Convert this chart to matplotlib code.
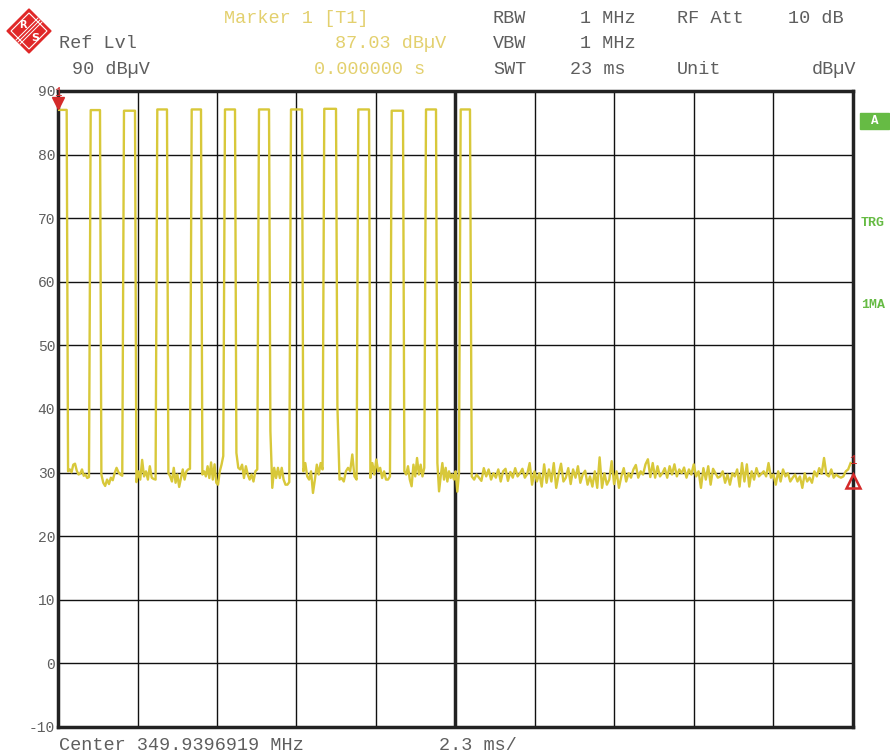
import matplotlib.pyplot as plt
from matplotlib.patches import Polygon, Rectangle
import numpy as np

# sweep settings: 10 div x 2.3 ms, -10..90 dBuV
t_div = 2.3
y_ticks = [90, 80, 70, 60, 50, 40, 30, 20, 10, 0, -10]

# burst edges (ms) and top level (dBuV)
pulse_rise = [0.0, 0.946, 1.909, 2.873, 3.868, 4.831, 5.815, 6.741, 7.704, 8.688, 9.654, 10.647, 11.650]
pulse_fall = [0.251, 1.215, 2.228, 3.153, 4.137, 5.121, 6.105, 7.059, 8.043, 8.998, 9.981, 10.936, 11.919]
pulse_top = [87.03, 87.0, 86.9, 87.1, 87.1, 87.1, 87.1, 87.1, 87.2, 87.1, 86.9, 87.1, 87.1]

# noise floor between bursts (dBuV)
gap_noise = [
    [30.2, 30.5, 30.05, 31.25, 31.4, 30.3, 29.7, 29.85, 30.5, 29.5, 29.7, 29.15, 29.3],
    [29.7, 28.4, 27.9, 28.9, 28.2, 29.2, 28.8, 29.95, 30.75, 30.05, 29.7, 29.5],
    [28.5, 30.2, 28.9, 32.0, 29.4, 30.2, 28.9, 31.0, 29.2, 29.0, 28.9],
    [29.95, 29.4, 28.6, 30.75, 28.4, 29.7, 27.75, 29.15, 30.5, 28.9, 30.2, 30.5, 30.6],
    [29.7, 30.2, 29.4, 31.0, 29.15, 31.6, 28.9, 31.3, 28.4, 28.1, 30.2, 31.25, 32.6],
    [33.1, 30.75, 30.5, 31.25, 29.15, 31.0, 29.7, 28.9, 29.7, 28.6, 30.2, 30.5],
    [36.5, 27.6, 30.75, 29.15, 30.75, 29.15, 30.75, 28.9, 28.1, 28.1, 28.5],
    [30.2, 31.5, 29.4, 28.9, 30.2, 26.8, 28.9, 31.25, 29.7, 31.5, 30.5],
    [40.5, 28.9, 29.15, 28.6, 30.2, 30.75, 30.2, 32.85, 29.4, 28.9],
    [29.15, 31.5, 29.7, 32.05, 30.2, 30.75, 29.15, 30.2, 28.9, 28.9, 29.4],
    [30.2, 29.7, 31.0, 28.9, 27.85, 31.25, 29.4, 32.3, 29.7, 31.25, 29.4, 30.75],
    [31.5, 27.05, 29.4, 31.5, 28.9, 30.75, 28.6, 30.2, 29.15, 29.7, 28.9, 30.2, 27.0, 29.8],
]

# noise floor after the last burst, 11.97 .. 22.93 ms
tail_start, tail_end = 11.97, 22.93
tail_noise = [
    29.4, 28.9, 29.7, 29.2, 28.7, 30.7, 29.4, 30.5, 28.9, 29.9, 29.2, 30.5, 28.6, 30.2, 30.6, 28.7,
    30.1, 29.2, 30.7, 29.4, 29.9, 30.6, 29.2, 29.8, 31.5, 28.1, 30.2, 28.6, 29.9, 27.8, 31.3, 28.4,
    30.5, 28.6, 31.5, 27.6, 29.7, 31.4, 28.6, 29.2, 30.7, 28.2, 30.5, 29.2, 31.0, 28.4, 29.7, 30.3,
    28.1, 29.4, 27.8, 30.2, 27.6, 32.4, 27.6, 29.9, 28.1, 28.9, 31.8, 28.2, 30.2, 27.6, 29.4, 30.7,
    28.6, 29.9, 29.2, 30.5, 31.2, 29.2, 30.2, 29.7, 31.3, 32.1, 29.3, 31.5, 29.2, 31.0, 29.4, 29.9,
    30.7, 29.2, 31.0, 29.7, 31.3, 29.4, 30.5, 29.9, 30.8, 29.2, 30.5, 29.7, 31.3, 29.4, 30.2, 27.6,
    30.7, 28.9, 31.0, 28.1, 30.6, 29.9, 29.2, 29.4, 30.2, 28.4, 29.7, 28.1, 29.9, 29.4, 30.5, 27.8,
    31.5, 28.6, 31.3, 27.8, 30.2, 28.9, 30.7, 29.4, 29.8, 30.2, 29.4, 31.5, 29.2, 29.7, 28.1, 30.2,
    28.6, 30.5, 29.4, 29.9, 28.6, 29.2, 29.7, 28.6, 29.4, 27.6, 29.9, 28.6, 29.2, 28.4, 30.2, 29.4,
    30.7, 29.8, 32.3, 29.7, 29.4, 30.5, 29.2, 29.7, 29.4, 29.2, 29.4, 30.2, 30.5, 31.5,
]

# build the trace
t, lvl = [], []
for i in range(len(pulse_rise)):
    t += [pulse_rise[i], pulse_fall[i]]
    lvl += [pulse_top[i], pulse_top[i]]
    if i < len(gap_noise):
        g = gap_noise[i]
        t += list(np.linspace(pulse_fall[i] + 0.04, pulse_rise[i + 1] - 0.05, len(g)))
        lvl += g
t += list(np.linspace(tail_start, tail_end, len(tail_noise)))
lvl += tail_noise

trace_col = '#D8C83A'
text_col = '#E3D06E'
gray = '#5e5e5e'
green = '#66BB44'
red = '#D42A2A'
mono = 'Liberation Mono'

W, H = 890, 753
fig = plt.figure(figsize=(W / 100, H / 100), dpi=100)
ax = fig.add_axes([58 / W, 26 / H, 795 / W, 636 / H])
ax.plot(t, lvl, color=trace_col, lw=1.7, zorder=3)
ax.set_xlim(0, 10 * t_div)
ax.set_ylim(-10, 90)
ax.set_xticks([k * t_div for k in range(11)])
ax.set_xticklabels([])
ax.set_yticks(y_ticks)
ax.set_yticklabels([str(v) for v in y_ticks], family=mono, fontsize=10.5, color=gray)
ax.tick_params(length=0, pad=2)
ax.grid(True, color='#111111', lw=1.0)
ax.axvline(5 * t_div, color='#222222', lw=2.5, zorder=2)
for s in ax.spines.values():
    s.set_linewidth(2.5)
    s.set_color('#222222')

# markers
ax.plot([0], [88.1], marker='v', color=red, ms=9, clip_on=False, zorder=5)
ax.text(0, 89.7, '1', color=red, fontsize=9, family=mono, ha='center', va='center')
ax.plot([10 * t_div], [28.7], marker='^', mfc='none', mec=red, mew=1.8, ms=10,
        clip_on=False, zorder=5)
ax.text(10 * t_div, 31.8, '1', color=red, fontsize=9, family=mono, ha='center', va='center')

# overlay in pixel coordinates for header, footer and logo
ov = fig.add_axes([0, 0, 1, 1], zorder=10)
ov.set_xlim(0, W)
ov.set_ylim(H, 0)
ov.set_axis_off()
ov.patch.set_alpha(0)


def txt(x, y, s, col=gray, ha='left', **kw):
    ov.text(x, y, s, color=col, ha=ha, va='center', family=mono, fontsize=13.3, **kw)


txt(224, 18, 'Marker 1 [T1]', text_col)
txt(59, 43, 'Ref Lvl')
txt(446, 43, '87.03 dBµV', text_col, ha='right')
txt(72, 69, '90 dBµV')
txt(314, 69, '0.000000 s', text_col)
txt(493, 18, 'RBW')
txt(636, 18, '1 MHz', ha='right')
txt(677, 18, 'RF Att')
txt(844, 18, '10 dB', ha='right')
txt(493, 43, 'VBW')
txt(636, 43, '1 MHz', ha='right')
txt(493, 69, 'SWT')
txt(626, 69, '23 ms', ha='right')
txt(677, 69, 'Unit')
txt(856, 69, 'dBµV', ha='right')
txt(59, 745, 'Center 349.9396919 MHz')
txt(439, 745, '2.3 ms/')

# side labels
ov.add_patch(Rectangle((860, 113), 29, 16, color=green))
ov.text(874.5, 121, 'A', color='white', ha='center', va='center', family=mono,
        fontsize=9, fontweight='bold')
ov.text(861, 223, 'TRG', color=green, ha='left', va='center', family=mono,
        fontsize=9.5, fontweight='bold')
ov.text(861, 305, '1MA', color=green, ha='left', va='center', family=mono,
        fontsize=9.5, fontweight='bold')

# R&S logo
ov.add_patch(Polygon([(29, 9), (51, 31), (29, 53), (7, 31)], closed=True, color='#E02828'))
ov.add_patch(Polygon([(29, 13), (47, 31), (29, 49), (11, 31)], closed=True,
                     fill=False, ec='white', lw=0.8))
for d in (-2, 0, 2):
    ov.plot([40 + d, 18 + d], [20 + d, 42 + d], color='white', lw=0.7)
ov.text(23, 25, 'R', color='white', ha='center', va='center', fontsize=7, fontweight='bold')
ov.text(35, 38, 'S', color='white', ha='center', va='center', fontsize=8, fontweight='bold')

fig.savefig('out.png', dpi=100, facecolor='white')
